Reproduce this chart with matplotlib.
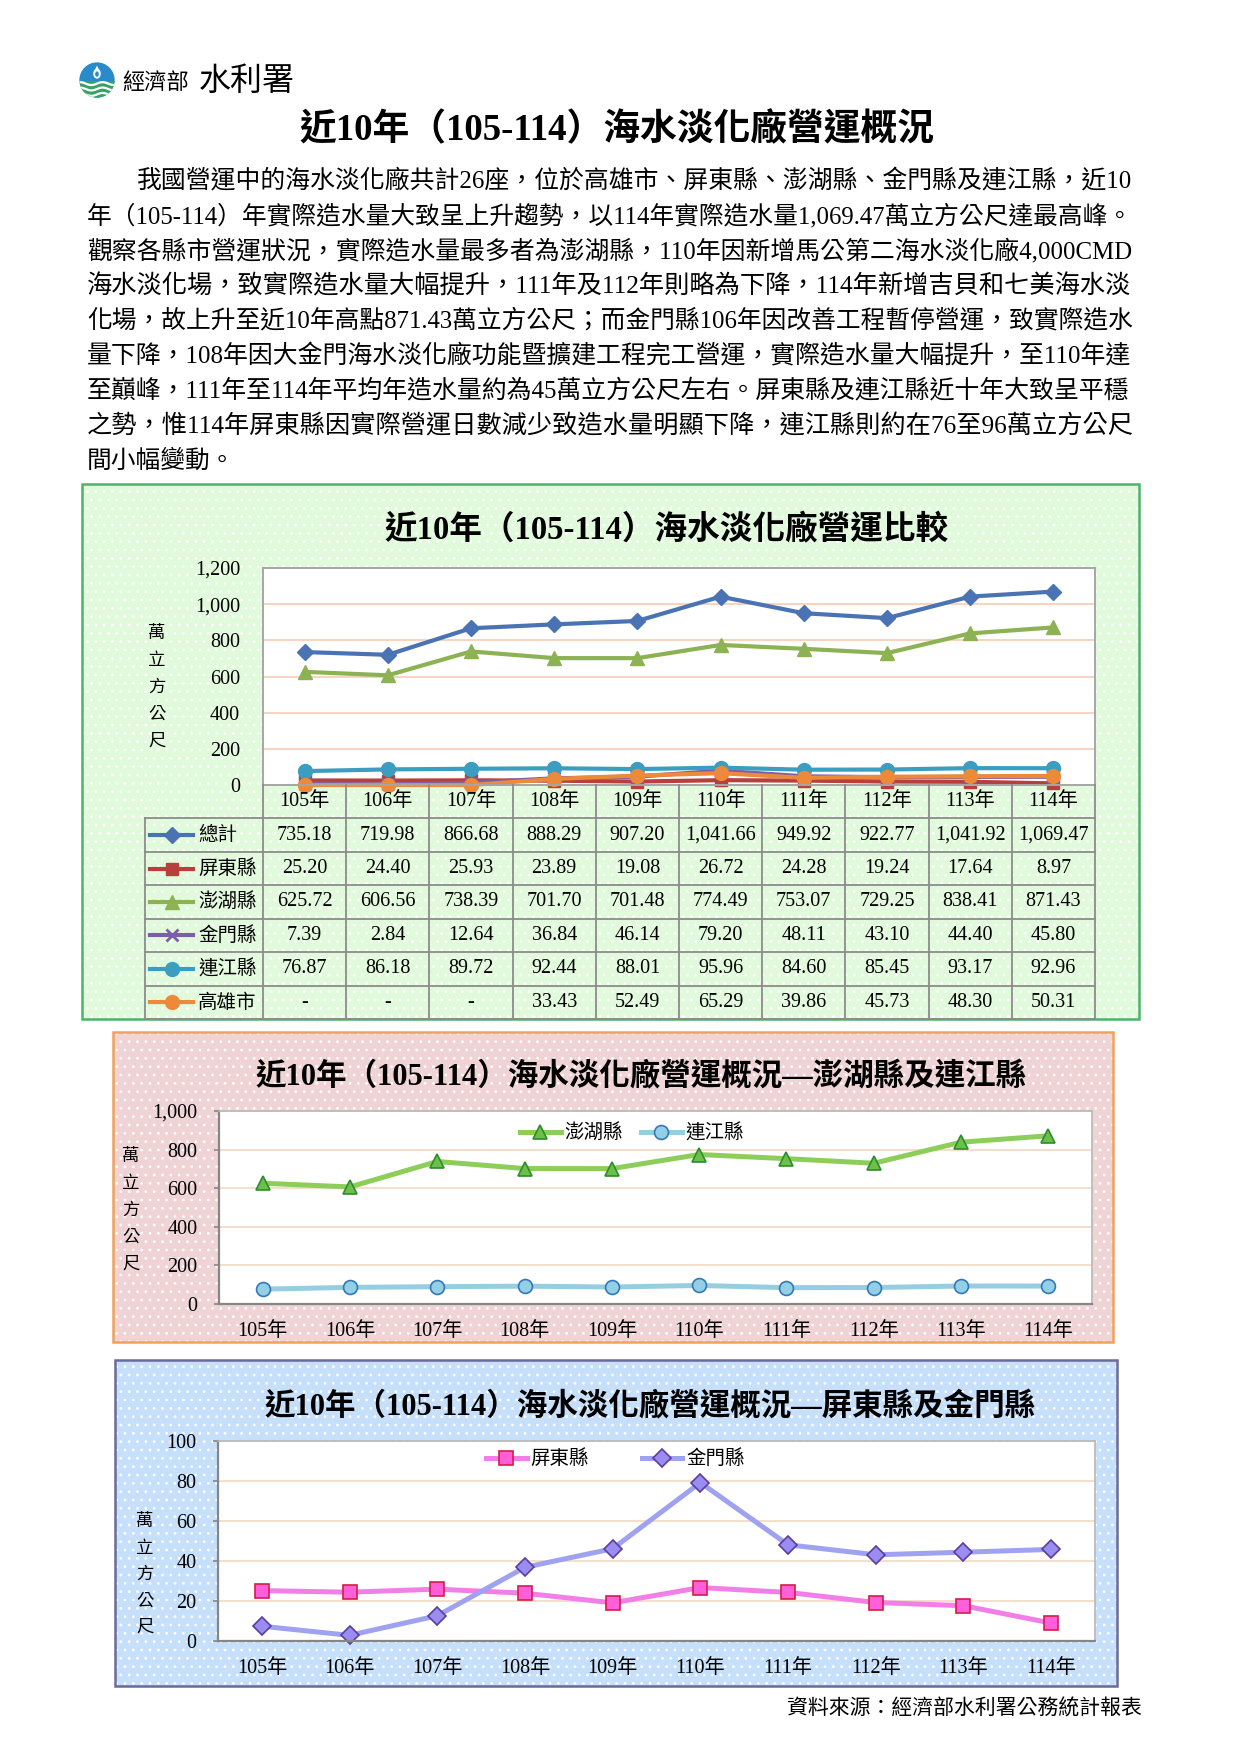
import matplotlib.pyplot as plt
import matplotlib.patches as mpatches
from matplotlib.ticker import StrMethodFormatter
import numpy as np

plt.rcParams['font.family'] = ['Liberation Serif', 'Noto Sans CJK TC']
plt.rcParams['hatch.linewidth'] = 0.8

W, H = 1241, 1755

# data (萬立方公尺)
years = ['105年', '106年', '107年', '108年', '109年', '110年', '111年', '112年', '113年', '114年']
total = [735.18, 719.98, 866.68, 888.29, 907.20, 1041.66, 949.92, 922.77, 1041.92, 1069.47]
pingtung = [25.20, 24.40, 25.93, 23.89, 19.08, 26.72, 24.28, 19.24, 17.64, 8.97]
penghu = [625.72, 606.56, 738.39, 701.70, 701.48, 774.49, 753.07, 729.25, 838.41, 871.43]
kinmen = [7.39, 2.84, 12.64, 36.84, 46.14, 79.20, 48.11, 43.10, 44.40, 45.80]
lienchiang = [76.87, 86.18, 89.72, 92.44, 88.01, 95.96, 84.60, 85.45, 93.17, 92.96]
kaohsiung = [np.nan, np.nan, np.nan, 33.43, 52.49, 65.29, 39.86, 45.73, 48.30, 50.31]
series_names = ['總計', '屏東縣', '澎湖縣', '金門縣', '連江縣', '高雄市']

para = [
    '我國營運中的海水淡化廠共計26座，位於高雄市、屏東縣、澎湖縣、金門縣及連江縣，近10',
    '年（105-114）年實際造水量大致呈上升趨勢，以114年實際造水量1,069.47萬立方公尺達最高峰。',
    '觀察各縣市營運狀況，實際造水量最多者為澎湖縣，110年因新增馬公第二海水淡化廠4,000CMD',
    '海水淡化場，致實際造水量大幅提升，111年及112年則略為下降，114年新增吉貝和七美海水淡',
    '化場，故上升至近10年高點871.43萬立方公尺；而金門縣106年因改善工程暫停營運，致實際造水',
    '量下降，108年因大金門海水淡化廠功能暨擴建工程完工營運，實際造水量大幅提升，至110年達',
    '至巔峰，111年至114年平均年造水量約為45萬立方公尺左右。屏東縣及連江縣近十年大致呈平穩',
    '之勢，惟114年屏東縣因實際營運日數減少致造水量明顯下降，連江縣則約在76至96萬立方公尺',
    '間小幅變動。',
]

fig = plt.figure(figsize=(W / 100, H / 100), dpi=100)
fig.patch.set_facecolor('white')
renderer = fig.canvas.get_renderer()


def px_axes(x0, y0, x1, y1, **kw):
    return fig.add_axes([x0 / W, 1 - y1 / H, (x1 - x0) / W, (y1 - y0) / H], **kw)


def fx(x):
    return x / W


def fy(y):
    return 1 - y / H


def panel(x0, y0, x1, y1, face, edge):
    xy = (fx(x0), fy(y1))
    w, h = (x1 - x0) / W, (y1 - y0) / H
    fig.add_artist(mpatches.Rectangle(xy, w, h, transform=fig.transFigure,
                                      facecolor=face, edgecolor='none', zorder=-3))
    fig.add_artist(mpatches.Rectangle(xy, w, h, transform=fig.transFigure, facecolor='none',
                                      edgecolor='white', hatch='..', lw=0, zorder=-2))
    fig.add_artist(mpatches.Rectangle(xy, w, h, transform=fig.transFigure,
                                      facecolor='none', edgecolor=edge, lw=1.8, zorder=-1))


def ylabel_chars(x, yc, step=27, size=12.5):
    txt = '萬立方公尺'
    for i, ch in enumerate(txt):
        fig.text(fx(x), fy(yc + (i - 2) * step), ch, fontsize=size,
                 ha='center', va='center')


# ---------- header ----------
lax = px_axes(79, 62, 115, 98)
lax.set_xlim(-1, 1)
lax.set_ylim(-1, 1)
lax.set_aspect('equal')
lax.axis('off')
circ = mpatches.Circle((0, 0), 0.98, facecolor='#2a8bcb', edgecolor='none')
lax.add_patch(circ)
low = mpatches.Rectangle((-1, -1), 2, 0.95, facecolor='#35a45e', edgecolor='none')
lax.add_patch(low)
low.set_clip_path(circ)
t = np.linspace(-1, 1, 60)
for off in (-0.2, -0.5, -0.8):
    ln, = lax.plot(t, off + 0.08 * np.sin(t * 5), color='white', lw=1.6)
    ln.set_clip_path(circ)
lax.add_patch(mpatches.Ellipse((0, 0.35), 0.42, 0.55, facecolor='white', edgecolor='none'))
lax.add_patch(mpatches.Polygon([(-0.17, 0.45), (0.17, 0.45), (0, 0.8)], facecolor='white', edgecolor='none'))
lax.add_patch(mpatches.Ellipse((0, 0.33), 0.2, 0.3, facecolor='#2a8bcb', edgecolor='none'))

fig.text(fx(122), fy(83), '經濟部', fontsize=16, ha='left', va='center')
fig.text(fx(199), fy(82), '水利署', fontsize=23, ha='left', va='center')

fig.text(fx(617), fy(130), '近10年（105-114）海水淡化廠營運概況', fontsize=26.5,
         fontweight='bold', ha='center', va='center')

# paragraph: each full line is sized to reach the right margin (justified look)
right_edge = 1133
base_fs = 17.8
for i, line in enumerate(para):
    x0 = 137 if i == 0 else 87
    txt = fig.text(fx(x0), fy(181 + 35 * i), line, fontsize=base_fs, ha='left', va='center')
    if i < len(para) - 1:
        wpx = txt.get_window_extent(renderer).width
        scale = (right_edge - x0) / wpx
        txt.set_fontsize(base_fs * min(max(scale, 0.94), 1.08))

# ---------- chart 1 : comparison + table ----------
panel(82, 484, 1139, 1019, '#e2fadc', '#4cb46a')
fig.text(fx(667), fy(530), '近10年（105-114）海水淡化廠營運比較', fontsize=23.5,
         fontweight='bold', ha='center', va='center')
ylabel_chars(157, 688)

x = np.arange(len(years))
styles = [
    dict(color='#4a73b4', marker='D', ms=8),
    dict(color='#b8403c', marker='s', ms=8.5),
    dict(color='#8db254', marker='^', ms=10),
    dict(color='#7d5ea8', marker='x', ms=8, mew=2),
    dict(color='#3b9ec0', marker='o', ms=10),
    dict(color='#ec8a3a', marker='o', ms=10),
]
all_series = [total, pingtung, penghu, kinmen, lienchiang, kaohsiung]

ax1 = px_axes(263, 568, 1095, 785)
ax1.set_facecolor('white')
for vals, st in zip(all_series, styles):
    ax1.plot(x, np.nan_to_num(np.array(vals, dtype=float)), lw=3, clip_on=False, **st)
ax1.set_xlim(-0.5, len(years) - 0.5)
ax1.set_ylim(0, 1200)
ax1.set_yticks(range(0, 1201, 200))
ax1.yaxis.set_major_formatter(StrMethodFormatter('{x:,.0f}'))
ax1.set_xticks([])
ax1.tick_params(axis='y', length=0, pad=16.5, labelsize=14.5)
ax1.grid(axis='y', color='#f6cbb6', lw=1.2)
ax1.set_axisbelow(True)
for s in ax1.spines.values():
    s.set_color('#a6a6a6')
    s.set_linewidth(1.4)

# table
colw = (1095 - 263) / len(years)
xl = -0.5 - (263 - 145) / colw
tab = px_axes(145, 785, 1095, 1019)
tab.set_xlim(xl, len(years) - 0.5)
tab.set_ylim(len(series_names) + 1, 0)
tab.axis('off')
tab.patch.set_alpha(0)
gc = '#8c8c8c'
for k in range(len(years) + 1):
    tab.plot([k - 0.5, k - 0.5], [0, len(series_names) + 1], color=gc, lw=1.3, clip_on=False)
tab.plot([xl, xl], [1, len(series_names) + 1], color=gc, lw=1.3, clip_on=False)
for r in range(1, len(series_names) + 2):
    tab.plot([xl, len(years) - 0.5], [r, r], color=gc, lw=1.3, clip_on=False)
for i, yr in enumerate(years):
    tab.text(i, 0.5, yr, fontsize=14.5, ha='center', va='center')
for r, (name, vals, st) in enumerate(zip(series_names, all_series, styles)):
    yy = r + 1.5
    for i, v in enumerate(vals):
        s = '-' if np.isnan(v) else f'{v:,.2f}'
        tab.text(i, yy, s, fontsize=14.5, ha='center', va='center')
    xa = xl + (150 - 145) / colw
    xb = xl + (193 - 145) / colw
    tab.plot([xa, (xa + xb) / 2, xb], [yy] * 3, lw=3, markevery=[1], clip_on=False, **st)
    tab.text(xl + (198 - 145) / colw, yy, name, fontsize=14, ha='left', va='center')

# ---------- chart 2 : Penghu & Lienchiang ----------
panel(113, 1032, 1113, 1342, '#efd3d5', '#f0a15c')
fig.text(fx(641), fy(1077), '近10年（105-114）海水淡化廠營運概況—澎湖縣及連江縣', fontsize=22,
         fontweight='bold', ha='center', va='center')
ylabel_chars(131, 1211)


def style_small(ax, ymax, step, fmt):
    ax.set_facecolor('white')
    ax.set_xlim(-0.5, len(years) - 0.5)
    ax.set_ylim(0, ymax)
    ax.set_yticks(range(0, ymax + 1, step))
    ax.yaxis.set_major_formatter(StrMethodFormatter(fmt))
    ax.set_xticks(x)
    ax.set_xticklabels(years)
    ax.tick_params(axis='y', length=3.6, width=1.2, color='#868686', pad=12, labelsize=14.5)
    ax.tick_params(axis='x', length=0, pad=13, labelsize=14.5)
    ax.grid(axis='y', color='#f2d9c4', lw=1.2)
    ax.set_axisbelow(True)
    for side in ('left', 'bottom'):
        ax.spines[side].set_color('#868686')
        ax.spines[side].set_linewidth(1.6)
    for side in ('top', 'right'):
        ax.spines[side].set_color('#b8b8b8')
        ax.spines[side].set_linewidth(1.2)


ax2 = px_axes(219, 1111, 1092, 1304)
ax2.plot(x, penghu, color='#8dce5a', lw=3.6, marker='^', ms=10.5,
         mfc='#6cc04a', mec='#2e8b2e', mew=1.2, label='澎湖縣', clip_on=False)
ax2.plot(x, lienchiang, color='#96cde0', lw=3.6, marker='o', ms=10,
         mfc='#93cfe5', mec='#3478b8', mew=1.2, label='連江縣', clip_on=False)
style_small(ax2, 1000, 200, '{x:,.0f}')
ax2.legend(loc='center', bbox_to_anchor=(0.473, 0.886), ncol=2, frameon=False,
           fontsize=14, handlelength=2.1, handletextpad=0.2, columnspacing=0.9)

# ---------- chart 3 : Pingtung & Kinmen ----------
panel(115, 1360, 1117, 1686, '#c6dffa', '#6b6b99')
fig.text(fx(650), fy(1407), '近10年（105-114）海水淡化廠營運概況—屏東縣及金門縣', fontsize=22,
         fontweight='bold', ha='center', va='center')
ylabel_chars(145, 1575, step=26.5)

ax3 = px_axes(218, 1441, 1095, 1641)
ax3.plot(x, pingtung, color='#f27ee8', lw=3.6, marker='s', ms=9.5,
         mfc='#ff5fd8', mec='#d81b4a', mew=1.2, label='屏東縣', clip_on=False)
ax3.plot(x, kinmen, color='#9fa2f0', lw=3.6, marker='D', ms=9,
         mfc='#9b8cf2', mec='#5b3d9e', mew=1.2, label='金門縣', clip_on=False)
style_small(ax3, 100, 20, '{x:.0f}')
ax3.legend(loc='center', bbox_to_anchor=(0.453, 0.91), ncol=2, frameon=False,
           fontsize=14, handlelength=2.1, handletextpad=0.2, columnspacing=2.7)

fig.text(fx(1142), fy(1709), '資料來源：經濟部水利署公務統計報表', fontsize=15,
         ha='right', va='center')

fig.savefig('out.png', dpi=100)
